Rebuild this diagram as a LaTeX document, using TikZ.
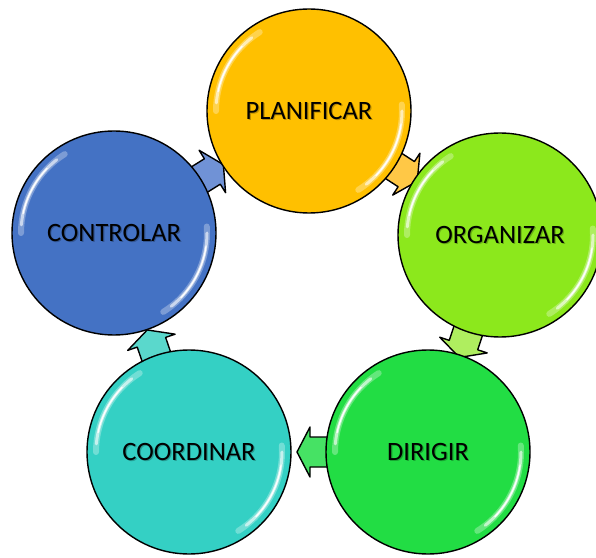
\documentclass[tikz,border=0pt]{standalone}
\usepackage{fontspec}
\setmainfont{Carlito}
\usetikzlibrary{calc}
\definecolor{cplan}{RGB}{255,192,0}
\definecolor{corga}{RGB}{140,232,28}
\definecolor{cdiri}{RGB}{34,221,68}
\definecolor{ccoor}{RGB}{52,208,196}
\definecolor{ccont}{RGB}{68,114,196}
\definecolor{aplan}{RGB}{255,200,70}
\definecolor{aorga}{RGB}{175,238,95}
\definecolor{adiri}{RGB}{70,226,100}
\definecolor{acoor}{RGB}{90,216,204}
\definecolor{acont}{RGB}{112,146,214}
\begin{document}
\begin{tikzpicture}[x=1pt,y=1pt,
  stage/.style={circle, draw=black, line width=1.4pt, minimum size=204pt, inner sep=0pt},
  flow/.style={draw=black, line width=1.4pt, line join=round},
  lbl/.style={font=\fontsize{26.5}{31}\selectfont, text=black, inner sep=0pt},
  shd/.style={font=\fontsize{26.5}{31}\selectfont, text=black, opacity=0.25, inner sep=0pt},
  glossa/.style={white, line cap=round, line width=6pt, opacity=0.3},
  glossb/.style={white, line cap=round, line width=3pt, opacity=0.6},
  glossc/.style={white, line cap=round, line width=1.3pt, opacity=1}]
\useasboundingbox (0,0) rectangle (596,557);
\coordinate (cP) at (309,446);
\coordinate (cO) at (500,322);
\coordinate (cD) at (428,105);
\coordinate (cK) at (189,105);
\coordinate (cC) at (114,324);
% arrow tips
\coordinate (tipP) at ($(cP)!129pt!(cO)$);
\coordinate (tipO) at ($(cO)!129pt!(cD)$);
\coordinate (tipD) at ($(cD)!131pt!(cK)$);
\coordinate (tipK) at ($(cK)!129pt!(cC)$);
\coordinate (tipC) at ($(cC)!129pt!(cP)$);
% arrows (behind circles)
\foreach \t/\a/\f in {tipP/-33/aplan, tipO/-108.35/aorga, tipD/180/adiri, tipK/108.9/acoor, tipC/32/acont}{
  \begin{scope}[shift={(\t)}, rotate=\a]
    \draw[flow, fill=\f] (0,0) -- (-13,25) -- (-13,15) -- (-42,15) -- (-42,-15) -- (-13,-15) -- (-13,-25) -- cycle;
  \end{scope}
}
% circles
\node[stage, fill=cplan] (P) at (cP) {};
\node[stage, fill=corga] (O) at (cO) {};
\node[stage, fill=cdiri] (D) at (cD) {};
\node[stage, fill=ccoor] (K) at (cK) {};
\node[stage, fill=ccont] (C) at (cC) {};
% gloss
\foreach \c in {P,O,D,K,C}{
  \draw[glossa] ($(\c.center)+(122:93pt)$) arc[start angle=122, end angle=180, radius=93pt];
  \draw[glossb] ($(\c.center)+(128:93pt)$) arc[start angle=128, end angle=175, radius=93pt];
  \draw[glossc] ($(\c.center)+(136:93pt)$) arc[start angle=136, end angle=168, radius=93pt];
  \draw[glossa] ($(\c.center)+(-58:93pt)$) arc[start angle=-58, end angle=4, radius=93pt];
  \draw[glossb] ($(\c.center)+(-52:93pt)$) arc[start angle=-52, end angle=0, radius=93pt];
  \draw[glossc] ($(\c.center)+(-44:93pt)$) arc[start angle=-44, end angle=-8, radius=93pt];
}
% labels
\node[shd] (sP) at ($(cP)+(1.2,-1.4)$) {PLANIFICAR};
\node[lbl] (tP) at (cP) {PLANIFICAR};
\node[shd] (sO) at ($(cO)+(1.2,-1.4)$) {ORGANIZAR};
\node[lbl] (tO) at (cO) {ORGANIZAR};
\node[shd] (sD) at ($(cD)+(1.2,-1.4)$) {DIRIGIR};
\node[lbl] (tD) at (cD) {DIRIGIR};
\node[shd] (sK) at ($(cK)+(1.2,-1.4)$) {COORDINAR};
\node[lbl] (tK) at (cK) {COORDINAR};
\node[shd] (sC) at ($(cC)+(1.2,-1.4)$) {CONTROLAR};
\node[lbl] (tC) at (cC) {CONTROLAR};
\end{tikzpicture}
\end{document}
